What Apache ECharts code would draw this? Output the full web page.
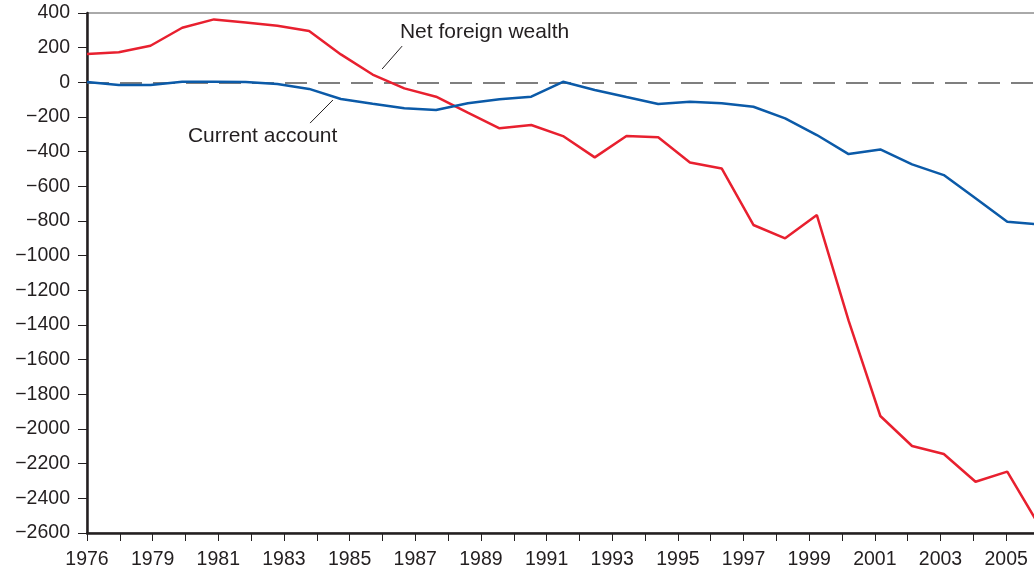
<!DOCTYPE html>
<html>
<head>
<meta charset="utf-8">
<title>Net foreign wealth and current account</title>
<script src="https://cdn.jsdelivr.net/npm/echarts@6/dist/echarts.min.js"></script>
<style>
    html, body { margin: 0; padding: 0; background: #fff; }
    #myChart { width: 1034px; height: 577px; }
</style>
</head>
<body>
<div id="myChart"></div>
<script>
    // years of the data points
    var years = [1976, 1977, 1978, 1979, 1980, 1981, 1982, 1983, 1984, 1985,
                 1986, 1987, 1988, 1989, 1990, 1991, 1992, 1993, 1994, 1995,
                 1996, 1997, 1998, 1999, 2000, 2001, 2002, 2003, 2004, 2005, 2006];
    // Net foreign wealth
    var netForeignWealth = [164, 173, 211, 315, 363, 345, 327, 296, 161, 45,
                            -35, -83, -175, -265, -246, -310, -433, -310, -317, -462,
                            -497, -823, -900, -766, -1375, -1925, -2098, -2144, -2304, -2246, -2555];
    // Current account
    var currentAccount = [2, -16, -16, 3, 3, 2, -10, -38, -96, -124,
                          -150, -160, -121, -98, -83, 3, -44, -85, -125, -112,
                          -121, -141, -208, -304, -414, -387, -473, -535, -669, -804, -820];
    // tick labels of the printed axis (one tick per entry, only every other one labelled)
    var tickLabels = ['1976', '', '1979', '', '1981', '', '1983', '', '1985', '',
                      '1987', '', '1989', '', '1991', '', '1993', '', '1995', '',
                      '1997', '', '1999', '', '2001', '', '2003', '', '2005', ''];

    var font = 'Liberation Sans, Arial, Helvetica, sans-serif';
    var textColor = '#231f20';

    function pairs(vals) {
        return vals.map(function (v, i) { return [years[i], v]; });
    }

    var myChart = echarts.init(document.getElementById('myChart'));
    myChart.setOption({
        animation: false,
        backgroundColor: '#fff',
        grid: {
            left: 87,
            top: 13,
            right: -5,
            bottom: 44,
            outerBoundsMode: 'none',
            containLabel: false,
            show: true,
            borderColor: '#555',
            borderWidth: 1
        },
        xAxis: [
            {
                // data axis, not drawn
                type: 'value',
                min: 1976,
                max: 2006,
                show: false
            },
            {
                // printed axis with its own ticks
                type: 'category',
                position: 'bottom',
                boundaryGap: false,
                data: tickLabels,
                axisLine: { show: true, lineStyle: { color: '#231f20', width: 2.5 } },
                axisTick: { show: true, interval: 0, length: 8, lineStyle: { color: '#231f20', width: 1 } },
                axisLabel: {
                    interval: 0,
                    margin: 17,
                    color: textColor,
                    fontFamily: font,
                    fontSize: 19.5
                },
                splitLine: { show: false }
            }
        ],
        yAxis: {
            type: 'value',
            min: -2600,
            max: 400,
            interval: 200,
            axisLine: { show: true, lineStyle: { color: '#231f20', width: 2.5 } },
            axisTick: { show: true, length: 9, lineStyle: { color: '#231f20', width: 1 } },
            axisLabel: {
                margin: 17,
                color: textColor,
                fontFamily: font,
                fontSize: 19.5,
                formatter: function (v) {
                    return v < 0 ? '\u2212' + Math.abs(v) : String(v);
                }
            },
            splitLine: { show: false }
        },
        series: [
            {
                name: 'Net foreign wealth',
                type: 'line',
                xAxisIndex: 0,
                data: pairs(netForeignWealth),
                symbol: 'none',
                lineStyle: { color: '#e8202f', width: 2.5 },
                z: 3
            },
            {
                name: 'Current account',
                type: 'line',
                xAxisIndex: 0,
                data: pairs(currentAccount),
                symbol: 'none',
                lineStyle: { color: '#0b5aa8', width: 2.5 },
                z: 4,
                markLine: {
                    silent: true,
                    symbol: 'none',
                    label: { show: false },
                    lineStyle: { color: '#555', width: 1.5, type: [22, 11] },
                    data: [{ yAxis: 0 }],
                    z: 2
                }
            }
        ]
    });

    // labels with leader lines, anchored in data units
    var notes = [
        { text: 'Net foreign wealth', at: [1985.86, 290], from: [1985.93, 209], to: [1985.30, 77] },
        { text: 'Current account', at: [1979.18, -310], from: [1983.75, -102], to: [1983.03, -235] }
    ];
    var graphics = [];
    notes.forEach(function (n) {
        var p = myChart.convertToPixel({ seriesIndex: 0 }, n.at);
        var a = myChart.convertToPixel({ seriesIndex: 0 }, n.from);
        var b = myChart.convertToPixel({ seriesIndex: 0 }, n.to);
        graphics.push({
            type: 'text',
            x: p[0],
            y: p[1],
            style: {
                text: n.text,
                fill: textColor,
                font: '21px ' + font,
                textAlign: 'left',
                textVerticalAlign: 'middle'
            },
            z: 10
        });
        graphics.push({
            type: 'line',
            shape: { x1: a[0], y1: a[1], x2: b[0], y2: b[1] },
            style: { stroke: '#231f20', lineWidth: 1 },
            z: 10
        });
    });
    myChart.setOption({ graphic: graphics });
</script>
</body>
</html>
